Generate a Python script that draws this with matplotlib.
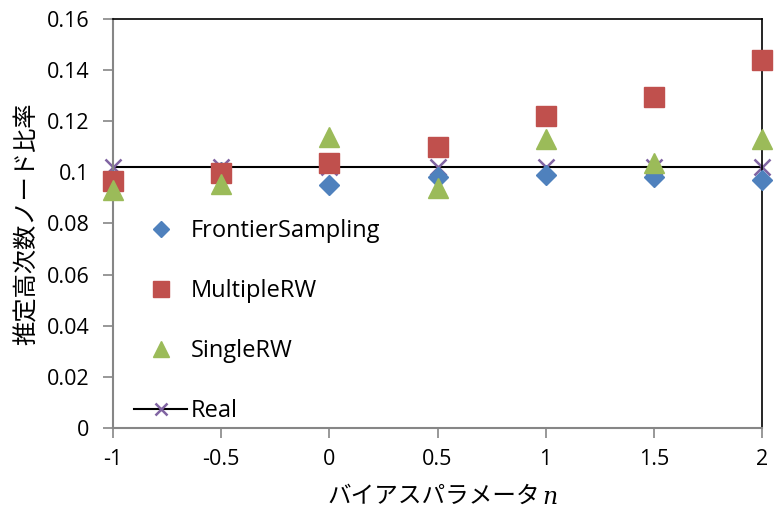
import matplotlib.pyplot as plt
import numpy as np

plt.rcParams['font.family'] = ['Open Sans', 'Noto Sans CJK JP', 'DejaVu Sans']

x = [-1, -0.5, 0, 0.5, 1, 1.5, 2]
frontier = [0.097, 0.100, 0.095, 0.098, 0.099, 0.098, 0.097]
multiple = [0.0966, 0.0998, 0.1035, 0.110, 0.122, 0.1295, 0.144]
single = [0.093, 0.0955, 0.114, 0.094, 0.113, 0.1037, 0.113]
real = [0.102, 0.102, 0.102, 0.102, 0.102, 0.102, 0.102]

fig = plt.figure(figsize=(7.74, 5.25), dpi=100)
ax = fig.add_axes([113/774, 1-428/525, (762-113)/774, (428-19)/525])

ax.plot(x, real, color='black', lw=1.5, marker='x', ms=11, mec='#8064A2',
        mew=1.8, label='Real', zorder=2, clip_on=False)
ax.plot(x, frontier, ls='none', marker='D', ms=10, color='#4F81BD',
        label='FrontierSampling', zorder=3, clip_on=False)
ax.plot(x, multiple, ls='none', marker='s', ms=14, color='#C0504D',
        label='MultipleRW', zorder=4, clip_on=False)
ax.plot(x, single, ls='none', marker='^', ms=14, color='#9BBB59',
        label='SingleRW', zorder=5, clip_on=False)

ax.set_xlim(-1, 2)
ax.set_ylim(0, 0.16)
ax.set_xticks([-1, -0.5, 0, 0.5, 1, 1.5, 2])
ax.set_xticklabels(['-1', '-0.5', '0', '0.5', '1', '1.5', '2'])
ax.set_yticks(np.arange(0, 0.161, 0.02))
ax.set_yticklabels(['0', '0.02', '0.04', '0.06', '0.08', '0.1', '0.12', '0.14', '0.16'])
ax.tick_params(labelsize=15.5, length=7, color='#868686', width=1.2, direction='out')
ax.tick_params(axis='y', pad=10)
ax.tick_params(axis='x', pad=8)

for s in ['left', 'bottom']:
    ax.spines[s].set_color('#868686')
    ax.spines[s].set_linewidth(1.5)
for s in ['top', 'right']:
    ax.spines[s].set_color('black')
    ax.spines[s].set_linewidth(1.2)

# x label: japanese text plus italic n
fig.text(540/774, 1-497/525, 'バイアスパラメータ', fontsize=17, ha='right', va='center')
fig.text(542/774, 1-497/525, 'n', fontsize=17, ha='left', va='center',
         family='DejaVu Serif', style='italic')
ax.set_ylabel('推定高次数ノード比率', fontsize=17.5, labelpad=5)

handles, labels = ax.get_legend_handles_labels()
order = [1, 2, 3, 0]
leg = ax.legend([handles[i] for i in order], [labels[i] for i in order],
                loc='lower left', bbox_to_anchor=(0.0, -0.04), frameon=False,
                fontsize=17, labelspacing=1.52, handlelength=2.25, handletextpad=0.15,
                markerscale=0.85)

fig.savefig('out.png', dpi=100)
